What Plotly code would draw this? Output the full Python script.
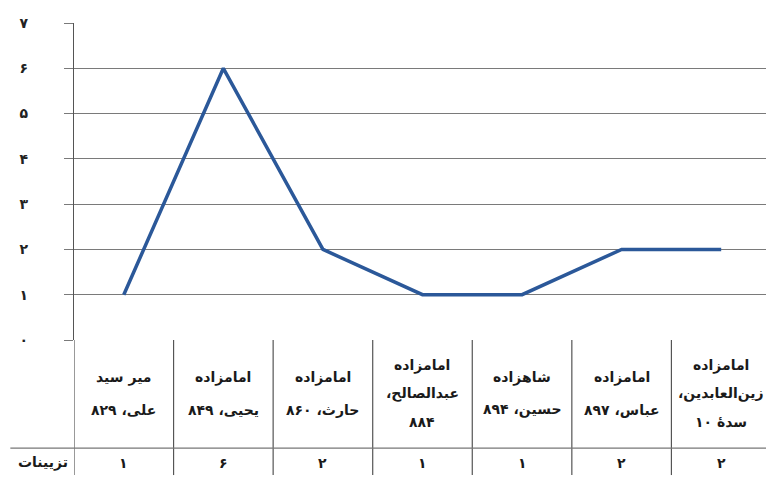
import plotly.graph_objects as go

categories = [
    "میر سید\nعلی، ۸۲۹",
    "امامزاده\nیحیی، ۸۴۹",
    "امامزاده\nحارث، ۸۶۰",
    "امامزاده\nعبدالصالح،\n۸۸۴",
    "شاهزاده\nحسین، ۸۹۴",
    "امامزاده\nعباس، ۸۹۷",
    "امامزاده\nزین‌العابدین،\nسدهٔ ۱۰",
]
values = [1, 6, 2, 1, 1, 2, 2]
row_label = "تزیینات"
y_ticks = [0, 1, 2, 3, 4, 5, 6, 7]

FA = "۰۱۲۳۴۵۶۷۸۹"


def fa(n):
    return "".join(FA[int(c)] if c.isdigit() else c for c in str(n))


def rtl(s):
    return "\u202b" + s + "\u202c"


FONT = "DejaVu Sans"
GRID = "#7a7a7a"
TXT = "#1a1a1a"
idx = list(range(len(categories)))

fig = go.Figure()
fig.add_trace(go.Scatter(
    x=idx, y=values, mode="lines",
    line=dict(color="#2B5899", width=3.5),
    hoverinfo="skip", showlegend=False,
))

shapes = []
annotations = []
y_sep = -0.341
y_bot = -0.426
for i in idx:
    shapes.append(dict(type="line", xref="x", yref="paper", x0=i - 0.5, x1=i - 0.5,
                       y0=0, y1=y_bot, line=dict(color="#555555", width=1.2)))
shapes.append(dict(type="line", xref="paper", yref="paper", x0=-0.092, x1=1,
                   y0=y_sep, y1=y_sep, line=dict(color="#777777", width=1.2)))

for i, lab in zip(idx, categories):
    lines = lab.split("\n")
    n = len(lines)
    sp = 32 if n == 2 else 28
    for k, ln in enumerate(lines):
        off = (k - (n - 1) / 2) * sp
        annotations.append(dict(x=i, y=-0.17, xref="x", yref="paper", text="<b>" + rtl(ln) + "</b>",
                                showarrow=False, yanchor="middle", yshift=-off,
                                font=dict(family=FONT, size=14, color=TXT)))
for i, v in zip(idx, values):
    annotations.append(dict(x=i, y=-0.388, xref="x", yref="paper", text="<b>" + fa(v) + "</b>",
                            showarrow=False, yanchor="middle",
                            font=dict(family=FONT, size=14, color=TXT)))
annotations.append(dict(x=-0.006, y=-0.388, xref="paper", yref="paper",
                        text="<b>" + rtl(row_label) + "</b>",
                        showarrow=False, xanchor="right", yanchor="middle",
                        font=dict(family=FONT, size=14, color=TXT)))

fig.update_layout(
    width=766, height=480,
    margin=dict(l=74, r=0, t=23, b=140),
    paper_bgcolor="white", plot_bgcolor="white",
    shapes=shapes, annotations=annotations,
    xaxis=dict(range=[-0.5, 6.45], showticklabels=False, showgrid=False,
               zeroline=False, showline=False, ticks=""),
    yaxis=dict(range=[0, 7], tickvals=y_ticks,
               ticktext=["<b>" + fa(t) + "</b>" for t in y_ticks],
               showgrid=True, gridcolor=GRID, gridwidth=1.2,
               zeroline=False, showline=True, linecolor="#555555", linewidth=1.2,
               ticks="outside", ticklen=9, tickcolor=GRID, tickwidth=1.2,
               ticklabelstandoff=33,
               tickfont=dict(family=FONT, size=14, color="#222222")),
)

fig.write_html("out.html", config={"displayModeBar": False},
               post_script="document.body.style.margin='0';document.body.style.padding='0';")
